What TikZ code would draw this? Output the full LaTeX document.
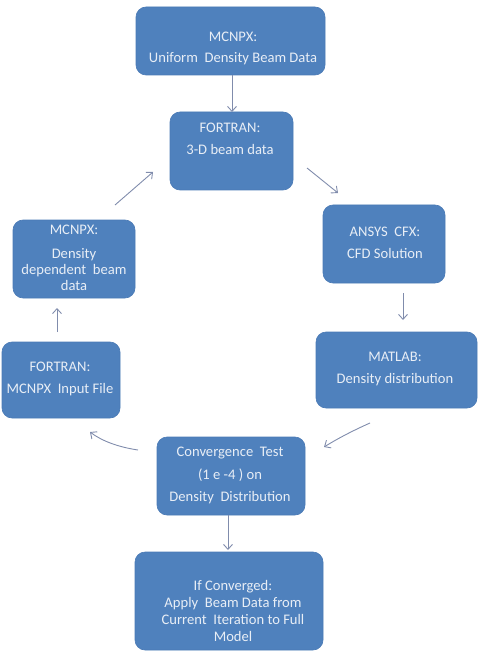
\documentclass[tikz,border=0pt]{standalone}
\usepackage{fontspec}
\setmainfont{Carlito}
\usetikzlibrary{arrows.meta}
\definecolor{boxfill}{RGB}{79,129,189}
\definecolor{boxline}{RGB}{74,122,181}
\definecolor{txtcol}{RGB}{232,238,246}
\definecolor{arrcol}{RGB}{128,140,172}
\tikzset{
  procbox/.style={draw=boxline, fill=boxfill, rounded corners=10pt, line width=0.6pt, inner sep=0pt},
  boxtext/.style={text=txtcol, align=center, inner sep=0pt, font=\fontsize{14.6}{17}\selectfont},
  flowarrow/.style={draw=arrcol, line width=0.9pt, -{Straight Barb[length=5pt,width=9pt]}}
}
\begin{document}
\begin{tikzpicture}[x=1pt,y=-1pt]
\useasboundingbox (0,0) rectangle (478,652);
% boxes
\node[procbox, minimum width=189pt, minimum height=68pt] (b1) at (230.5,41) {};
\node[procbox, minimum width=123pt, minimum height=78pt] (b2) at (231.5,151) {};
\node[procbox, minimum width=122pt, minimum height=78pt] (b3) at (384,244) {};
\node[procbox, minimum width=161pt, minimum height=76pt] (b4) at (396.5,370) {};
\node[procbox, minimum width=148pt, minimum height=78pt] (b5) at (231,476) {};
\node[procbox, minimum width=188pt, minimum height=98pt] (b6) at (229,601) {};
\node[procbox, minimum width=118pt, minimum height=76pt] (b7) at (61,380) {};
\node[procbox, minimum width=122pt, minimum height=78pt] (b8) at (74,259) {};
% texts
\node[boxtext] (t1) at (233,48) {MCNPX:\\[4pt]Uniform\ \ Density Beam Data};
\node[boxtext] (t2) at (230,139) {FORTRAN:\\[5pt]3-D beam data};
\node[boxtext] (t3) at (385,243) {ANSYS\ \ CFX:\\[5pt]CFD Solution};
\node[boxtext] (t4) at (395,369) {MATLAB:\\[5pt]Density distribution};
\node[boxtext] (t5) at (230,475.5) {Convergence\ \ Test\\[5.5pt](1 e -4 ) on\\[5.5pt]Density\ \ Distribution};
\node[boxtext] (t6) at (233,611) {If Converged:\\Apply\ \ Beam Data from\\Current\ \ Iteration to Full\\Model};
\node[boxtext] (t7) at (60,379) {FORTRAN:\\[5pt]MCNPX\ \ Input File};
\node[boxtext] (t8) at (74,258) {MCNPX:\\[7pt]Density\\[-1pt]dependent\ \ beam\\[-1pt]data};
% arrow end points
\coordinate (a1s) at (232,75);   \coordinate (a1e) at (232,112);
\coordinate (a2s) at (307,168);  \coordinate (a2e) at (338,193);
\coordinate (a3s) at (403,293);  \coordinate (a3e) at (403,320);
\coordinate (a4s) at (370,423);  \coordinate (a4e) at (324,447);
\coordinate (a5s) at (228,515);  \coordinate (a5e) at (228,550);
\coordinate (a6s) at (138,450);  \coordinate (a6e) at (90,432);
\coordinate (a7s) at (57,332);   \coordinate (a7e) at (57,308);
\coordinate (a8s) at (115,205);  \coordinate (a8e) at (153,172);
% arrows
\draw[flowarrow] (a1s) -- (a1e);
\draw[flowarrow] (a2s) -- (a2e);
\draw[flowarrow] (a3s) -- (a3e);
\draw[flowarrow] (a4s) .. controls (352,431) and (337,439) .. (a4e);
\draw[flowarrow] (a5s) -- (a5e);
\draw[flowarrow] (a6s) .. controls (118,447) and (102,441) .. (a6e);
\draw[flowarrow] (a7s) -- (a7e);
\draw[flowarrow] (a8s) -- (a8e);
\end{tikzpicture}
\end{document}
